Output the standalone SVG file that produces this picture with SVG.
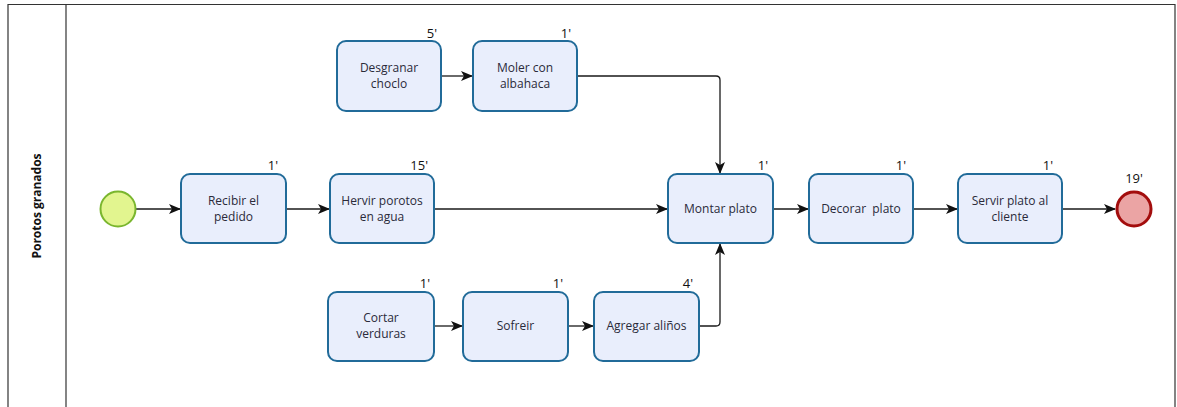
<svg xmlns="http://www.w3.org/2000/svg" width="1177" height="407" viewBox="0 0 1177 407">
  <style>
    .task rect { fill: #e9eefc; stroke: #216b99; stroke-width: 2; }
    .task text { font-family: "Open Sans", "Noto Sans", sans-serif; font-size: 12px; fill: #2a2a3a; text-anchor: middle; }
    .task text.time, .time { font-family: "Open Sans", "Noto Sans", sans-serif; font-size: 13px; fill: #111; text-anchor: end; }
    .flow { fill: none; stroke: #1a1a1a; stroke-width: 1.3; marker-end: url(#arrow); }
    .pool { fill: none; stroke: #333; stroke-width: 1.2; }
  </style>
  <defs>
    <marker id="arrow" viewBox="0 0 12 10" refX="11" refY="5" markerWidth="12" markerHeight="10" markerUnits="userSpaceOnUse" orient="auto">
      <path d="M0,0 L12,5 L0,10 L3,5 Z" fill="#111"/>
    </marker>
  </defs>

  <rect width="1177" height="407" fill="#fff"/>

  <!-- pool and lane -->
  <g id="pool">
    <path class="pool" d="M8,412 V4.5 H1175 V412"/>
    <line class="pool" x1="66" y1="4.5" x2="66" y2="412"/>
    <text x="41" y="206" transform="rotate(-90 41 206)" font-family="'Open Sans', 'Noto Sans', sans-serif" font-size="12" font-weight="bold" fill="#111" text-anchor="middle">Porotos granados</text>
  </g>

  <!-- connectors -->
  <g id="connectors">
    <line class="flow" x1="136" y1="209" x2="180" y2="209"/>
    <line class="flow" x1="286" y1="209" x2="329" y2="209"/>
    <line class="flow" x1="434" y1="209" x2="667" y2="209"/>
    <line class="flow" x1="441" y1="76" x2="472" y2="76"/>
    <path class="flow" d="M577,76 H716 Q720,76 720,80 V173"/>
    <path class="flow" d="M699,326 H716 Q720,326 720,322 V244"/>
    <line class="flow" x1="434" y1="326" x2="462" y2="326"/>
    <line class="flow" x1="568" y1="326" x2="593" y2="326"/>
    <line class="flow" x1="773" y1="209" x2="808" y2="209"/>
    <line class="flow" x1="913" y1="209" x2="957" y2="209"/>
    <line class="flow" x1="1062" y1="209" x2="1115" y2="209"/>
  </g>

  <!-- start event -->
  <g id="start">
    <circle cx="118" cy="209" r="17.5" fill="#e2f58f" stroke="#7ab62e" stroke-width="2"/>
  </g>

  <g id="recibir" class="task">
    <rect x="181" y="174" width="105" height="69" rx="9"/>
    <text x="233.5" y="205">Recibir el</text>
    <text x="233.5" y="221">pedido</text>
    <text class="time" x="278" y="170">1'</text>
  </g>

  <g id="hervir" class="task">
    <rect x="330" y="174" width="104" height="69" rx="9"/>
    <text x="382" y="205">Hervir porotos</text>
    <text x="382" y="221">en agua</text>
    <text class="time" x="428" y="170">15'</text>
  </g>

  <g id="desgranar" class="task">
    <rect x="337" y="41" width="104" height="70" rx="9"/>
    <text x="389" y="72">Desgranar</text>
    <text x="389" y="88">choclo</text>
    <text class="time" x="437" y="38">5'</text>
  </g>

  <g id="moler" class="task">
    <rect x="473" y="41" width="104" height="70" rx="9"/>
    <text x="525" y="72">Moler con</text>
    <text x="525" y="88">albahaca</text>
    <text class="time" x="571" y="38">1'</text>
  </g>

  <g id="montar" class="task">
    <rect x="668" y="174" width="105" height="69" rx="9"/>
    <text x="720.5" y="213">Montar plato</text>
    <text class="time" x="768" y="170">1'</text>
  </g>

  <g id="decorar" class="task">
    <rect x="809" y="174" width="104" height="69" rx="9"/>
    <text x="861" y="213" xml:space="preserve">Decorar  plato</text>
    <text class="time" x="906" y="170">1'</text>
  </g>

  <g id="servir" class="task">
    <rect x="958" y="174" width="104" height="69" rx="9"/>
    <text x="1010" y="205">Servir plato al</text>
    <text x="1010" y="221">cliente</text>
    <text class="time" x="1053" y="170">1'</text>
  </g>

  <g id="cortar" class="task">
    <rect x="328" y="292" width="106" height="69" rx="9"/>
    <text x="381" y="322">Cortar</text>
    <text x="381" y="338">verduras</text>
    <text class="time" x="430" y="288">1'</text>
  </g>

  <g id="sofreir" class="task">
    <rect x="463" y="292" width="105" height="69" rx="9"/>
    <text x="515.5" y="330">Sofreir</text>
    <text class="time" x="563" y="288">1'</text>
  </g>

  <g id="agregar" class="task">
    <rect x="594" y="292" width="105" height="69" rx="9"/>
    <text x="646.5" y="330">Agregar aliños</text>
    <text class="time" x="693" y="288">4'</text>
  </g>

  <!-- end event -->
  <g id="end">
    <circle cx="1134" cy="209" r="17" fill="#eba4a4" stroke="#a30d0d" stroke-width="3"/>
    <text x="1134" y="183" font-family="'Open Sans', 'Noto Sans', sans-serif" font-size="13" fill="#111" text-anchor="middle">19'</text>
  </g>
</svg>
